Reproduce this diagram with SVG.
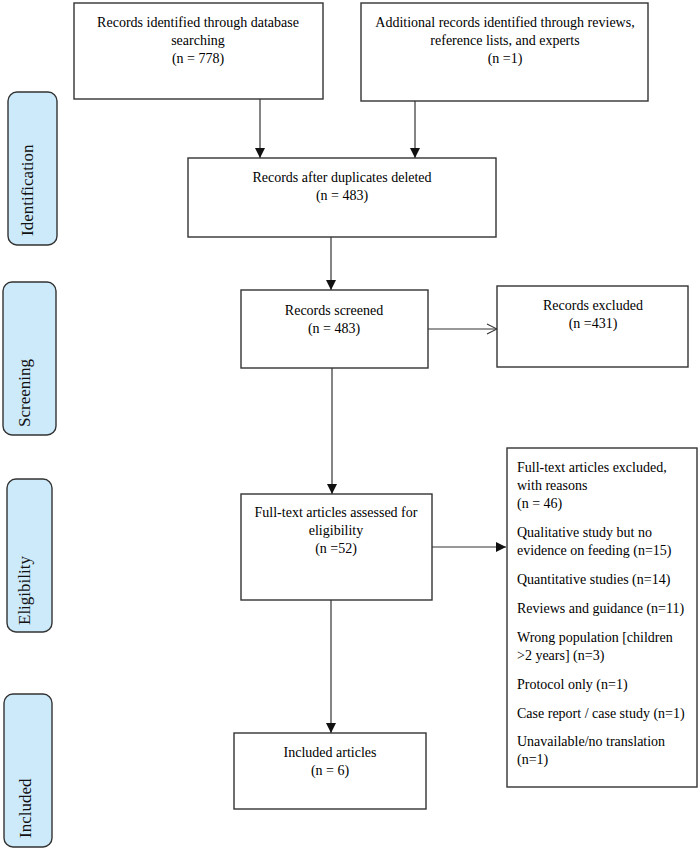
<svg xmlns="http://www.w3.org/2000/svg" width="700" height="850" viewBox="0 0 700 850">
<defs>
<style>
.box{fill:#fff;stroke:#333;stroke-width:1.4}
.pill{fill:#cdeafb;stroke:#333;stroke-width:1.4}
.t{font-family:"Liberation Serif","Times New Roman",serif;font-size:14px;fill:#000}
.c{text-anchor:middle}
.p{font-family:"Liberation Serif","Times New Roman",serif;font-size:17px;fill:#111}
.ln{stroke:#333;stroke-width:1.2;fill:none}
</style>
<marker id="ah" viewBox="0 0 10 10" refX="10" refY="5" markerWidth="10" markerHeight="10" markerUnits="userSpaceOnUse" orient="auto">
<path d="M0,0 L10,5 L0,10 Z" fill="#111"/>
</marker>
<marker id="oh" viewBox="0 0 12 12" refX="11" refY="6" markerWidth="12" markerHeight="12" markerUnits="userSpaceOnUse" orient="auto">
<path d="M1,1 L11,6 L1,11" fill="none" stroke="#333" stroke-width="1.1"/>
</marker>
</defs>
<rect width="700" height="850" fill="#fff"/>

<g id="stage-identification"><rect class="pill" x="8" y="92" width="49" height="153" rx="9"/><text class="p" transform="translate(33,236) rotate(-90)">Identification</text></g>
<g id="stage-screening"><rect class="pill" x="3" y="282" width="53" height="153" rx="9"/><text class="p" transform="translate(30,427) rotate(-90)">Screening</text></g>
<g id="stage-eligibility"><rect class="pill" x="7" y="479" width="45" height="153" rx="9"/><text class="p" transform="translate(30,625) rotate(-90)">Eligibility</text></g>
<g id="stage-included"><rect class="pill" x="4" y="694" width="48" height="153" rx="9"/><text class="p" transform="translate(31,838) rotate(-90)">Included</text></g>

<g id="connectors">
<line class="ln" x1="260" y1="99" x2="260" y2="158" marker-end="url(#ah)"/>
<line class="ln" x1="415" y1="101" x2="415" y2="158" marker-end="url(#ah)"/>
<line class="ln" x1="331" y1="237" x2="331" y2="290" marker-end="url(#ah)"/>
<line class="ln" x1="428" y1="329" x2="497" y2="329" marker-end="url(#oh)"/>
<line class="ln" x1="332" y1="368" x2="332" y2="494" marker-end="url(#ah)"/>
<line class="ln" x1="432" y1="547" x2="506" y2="547" marker-end="url(#ah)"/>
<line class="ln" x1="331" y1="600" x2="331" y2="733" marker-end="url(#ah)"/>
</g>

<g id="n-database"><rect class="box" x="74" y="3" width="249" height="96"/>
<text class="t c" x="198" y="27">Records identified through database</text>
<text class="t c" x="198" y="45">searching</text>
<text class="t c" x="198" y="63">(n = 778)</text></g>

<g id="n-additional"><rect class="box" x="361" y="3" width="287" height="98"/>
<text class="t c" x="505" y="27">Additional records identified through reviews,</text>
<text class="t c" x="505" y="45">reference lists, and experts</text>
<text class="t c" x="505" y="63">(n =1)</text></g>

<g id="n-duplicates"><rect class="box" x="188" y="158" width="308" height="79"/>
<text class="t c" x="342" y="182">Records after duplicates deleted</text>
<text class="t c" x="342" y="200">(n = 483)</text></g>

<g id="n-screened"><rect class="box" x="241" y="290" width="187" height="78"/>
<text class="t c" x="334" y="315">Records screened</text>
<text class="t c" x="334" y="333">(n = 483)</text></g>

<g id="n-excluded"><rect class="box" x="497" y="286" width="191" height="81"/>
<text class="t c" x="593" y="310">Records excluded</text>
<text class="t c" x="593" y="328">(n =431)</text></g>

<g id="n-fulltext"><rect class="box" x="241" y="494" width="191" height="106"/>
<text class="t c" x="336" y="517">Full-text articles assessed for</text>
<text class="t c" x="336" y="535">eligibility</text>
<text class="t c" x="336" y="553">(n =52)</text></g>

<g id="n-reasons"><rect class="box" x="507" y="448" width="190" height="339"/>
<text class="t" x="517" y="472">Full-text articles excluded,</text>
<text class="t" x="517" y="490">with reasons</text>
<text class="t" x="517" y="508">(n = 46)</text>
<text class="t" x="517" y="537">Qualitative study but no</text>
<text class="t" x="517" y="555">evidence on feeding (n=15)</text>
<text class="t" x="517" y="584">Quantitative studies (n=14)</text>
<text class="t" x="517" y="613">Reviews and guidance (n=11)</text>
<text class="t" x="517" y="642">Wrong population [children</text>
<text class="t" x="517" y="660">&gt;2 years] (n=3)</text>
<text class="t" x="517" y="689">Protocol only (n=1)</text>
<text class="t" x="517" y="718">Case report / case study (n=1)</text>
<text class="t" x="517" y="746">Unavailable/no translation</text>
<text class="t" x="517" y="764">(n=1)</text></g>

<g id="n-included"><rect class="box" x="234" y="733" width="192" height="76"/>
<text class="t c" x="330" y="757">Included articles</text>
<text class="t c" x="330" y="775">(n = 6)</text></g>
</svg>
